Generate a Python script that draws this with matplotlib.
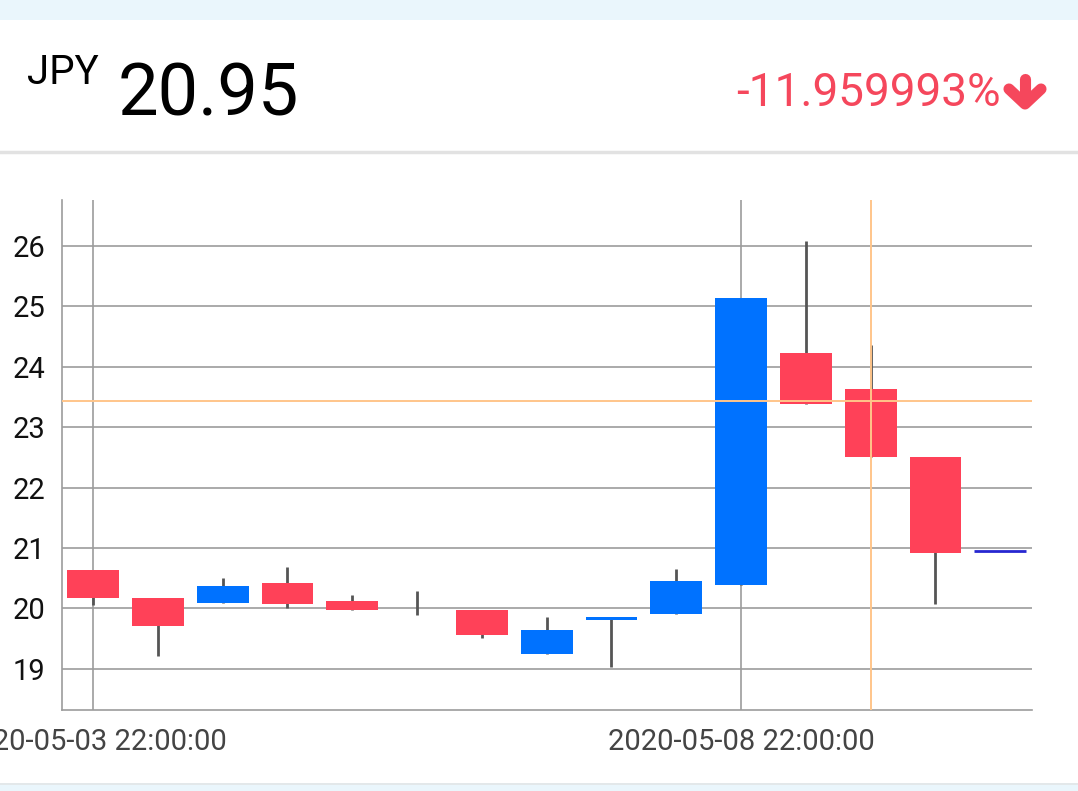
import matplotlib
matplotlib.use("Agg")
import matplotlib.pyplot as plt
from matplotlib.patches import Rectangle
from matplotlib.lines import Line2D

plt.rcParams['font.family'] = ['Roboto', 'DejaVu Sans']

# 蜡烛数据 (每根 12 小时)
opens = [20.63, 20.17, 20.09, 20.42, 20.12, 20.00, 19.98, 19.25, 19.81, 19.91, 20.39, 24.23, 23.63, 22.50, 20.95]
closes = [20.17, 19.71, 20.38, 20.07, 19.98, 20.00, 19.56, 19.64, 19.86, 20.45, 25.14, 23.39, 22.51, 20.92, 20.95]
highs = [20.63, 20.17, 20.51, 20.68, 20.23, 20.29, 19.98, 19.86, 19.86, 20.65, 25.14, 26.08, 24.36, 22.50, 20.95]
lows = [20.05, 19.22, 20.09, 20.00, 19.98, 19.90, 19.51, 19.25, 19.03, 19.91, 20.39, 23.39, 22.51, 20.08, 20.95]
tick_pos = [0, 10]
tick_labels = ['2020-05-03 22:00:00', '2020-05-08 22:00:00']
y_ticks = [19, 20, 21, 22, 23, 24, 25, 26]
cross_x = 12
cross_y = 23.43
last_price = '20.95'
change_text = '-11.959993%'

up_color = '#0072FF'
down_color = '#FF4158'
grid_color = '#9C9C9C'
text_red = '#F5475C'

W, H = 1078, 791
fig = plt.figure(figsize=(W / 100, H / 100), dpi=100)
fig.patch.set_facecolor('white')


def px(x, y):
    # 像素坐标 -> figure 坐标
    return x / W, 1 - y / H


# 顶部和底部的浅蓝色条
fig.add_artist(Rectangle((0, 1 - 20 / H), 1, 20 / H, transform=fig.transFigure,
                         facecolor='#EAF6FC', edgecolor='none'))
fig.add_artist(Rectangle((0, 0), 1, 6 / H, transform=fig.transFigure,
                         facecolor='#EAF6FC', edgecolor='none'))
fig.add_artist(Rectangle((0, 6 / H), 1, 2 / H, transform=fig.transFigure,
                         facecolor='#E3E8EA', edgecolor='none'))
# 分隔线
fig.add_artist(Line2D([0, 1], [1 - 152 / H, 1 - 152 / H], transform=fig.transFigure,
                      color='#E2E2E2', lw=2.5))

# 标题
fig.text(*px(27, 84), 'JPY', fontsize=29, color='black', va='baseline')
fig.text(*px(118, 116), last_price, fontsize=52, color='black', va='baseline')
fig.text(*px(1001, 106), change_text, fontsize=33, color=text_red,
         va='baseline', ha='right')

# 向下箭头
xs, ys = zip(px(1025, 79), px(1025, 102))
fig.add_artist(Line2D(xs, ys, transform=fig.transFigure, color=text_red, lw=8,
                      solid_capstyle='round'))
xs, ys = zip(px(1009, 89), px(1025, 104), px(1041, 89))
fig.add_artist(Line2D(xs, ys, transform=fig.transFigure, color=text_red, lw=8,
                      solid_capstyle='round', solid_joinstyle='round'))

ax = fig.add_axes([62 / W, 81 / H, 970 / W, 510 / H])
ax.set_xlim(-0.48, 14.49)
ax.set_ylim(18.32, 26.76)

for y in y_ticks:
    ax.axhline(y, color=grid_color, lw=1.2, zorder=0)
for x in tick_pos:
    ax.axvline(x, color=grid_color, lw=1.2, zorder=0)

n = len(opens)
for i in range(n):
    o, c, h, l = opens[i], closes[i], highs[i], lows[i]
    if o == c:
        if i == n - 1:
            ax.hlines(o, i - 0.4, i + 0.4, color='#2727D0', lw=2, zorder=3)
        ax.vlines(i, l, h, color='#555555', lw=2, zorder=2)
        continue
    col = up_color if c > o else down_color
    ax.vlines(i, l, h, color='#555555', lw=2, zorder=2)
    ax.bar(i, abs(c - o), bottom=min(o, c), width=0.8, color=col, zorder=3)

# 十字线
ax.axhline(cross_y, color='#FFC58A', lw=1.4, zorder=4)
ax.axvline(cross_x, color='#FFC58A', lw=1.4, zorder=4)

ax.set_yticks(y_ticks)
ax.set_yticklabels([str(v) for v in y_ticks], fontsize=21, color='#111111')
ax.set_xticks(tick_pos)
ax.set_xticklabels(tick_labels, fontsize=21, color='#444444')
ax.tick_params(length=0)
ax.tick_params(axis='x', pad=13)
ax.tick_params(axis='y', pad=12)
for s in ['top', 'right']:
    ax.spines[s].set_visible(False)
for s in ['left', 'bottom']:
    ax.spines[s].set_color(grid_color)
    ax.spines[s].set_linewidth(1.2)

fig.savefig('out.png', dpi=100)
